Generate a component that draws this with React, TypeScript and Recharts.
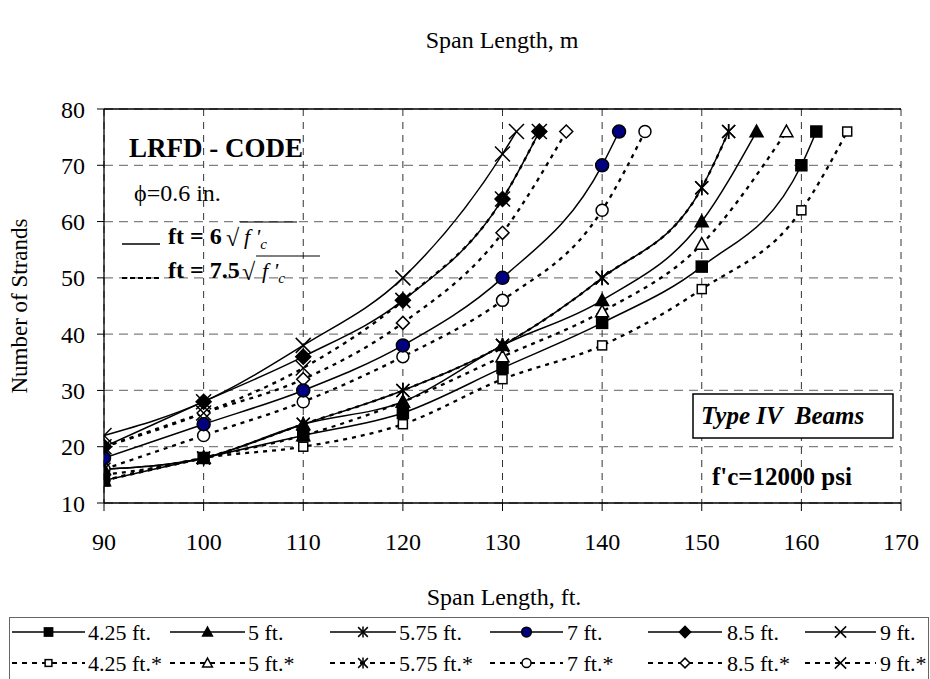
import React from "react";
import { LineChart, Line, XAxis, YAxis, CartesianGrid } from "recharts";

const SERIF = "'Liberation Serif', 'Times New Roman', serif";

const spanTicks = [90, 100, 110, 120, 130, 140, 150, 160, 170];
const spanMeters = ["27.4", "30.5", "33.5", "36.6", "39.6", "42.7", "45.7", "48.8", "51.8"];
const strandTicks = [10, 20, 30, 40, 50, 60, 70, 80];

// girder spacing 4.25 ft
const span425 = [90, 100, 110, 120, 130, 140, 150, 160, 161.5];
const strands425 = [14, 18, 22, 26, 34, 42, 52, 70, 76];
const span425s = [90, 100, 110, 120, 130, 140, 150, 160, 164.6];
const strands425s = [14, 18, 20, 24, 32, 38, 48, 62, 76];
// 5 ft
const span5 = [90, 100, 110, 120, 130, 140, 150, 155.5];
const strands5 = [16, 18, 24, 28, 38, 46, 60, 76];
const span5s = [90, 100, 110, 120, 130, 140, 150, 158.5];
const strands5s = [14, 18, 22, 28, 36, 44, 56, 76];
// 5.75 ft
const span575 = [90, 100, 110, 120, 130, 140, 150, 152.7];
const strands575 = [16, 18, 24, 30, 38, 50, 66, 76];
const span575s = [90, 100, 110, 120, 130, 140, 150, 152.7];
const strands575s = [15, 18, 24, 30, 38, 50, 66, 76];
// 7 ft
const span7 = [90, 100, 110, 120, 130, 140, 141.7];
const strands7 = [18, 24, 30, 38, 50, 70, 76];
const span7s = [90, 100, 110, 120, 130, 140, 144.3];
const strands7s = [16, 22, 28, 36, 46, 62, 76];
// 8.5 ft
const span85 = [90, 100, 110, 120, 130, 133.7];
const strands85 = [20, 28, 36, 46, 64, 76];
const span85s = [90, 100, 110, 120, 130, 136.4];
const strands85s = [20, 26, 32, 42, 58, 76];
// 9 ft
const span9 = [90, 100, 110, 120, 130, 131.4];
const strands9 = [22, 28, 38, 50, 72, 76];
const span9s = [90, 100, 110, 120, 130, 133.7];
const strands9s = [20, 26, 34, 46, 64, 76];

type Shape = "square" | "triangle" | "star" | "circle" | "diamond" | "cross";

interface Series {
    name: string;
    xs: number[];
    ys: number[];
    dashed: boolean;
    shape: Shape;
}

const SERIES: Series[] = [
    { name: "4.25 ft.", xs: span425, ys: strands425, dashed: false, shape: "square" },
    { name: "5 ft.", xs: span5, ys: strands5, dashed: false, shape: "triangle" },
    { name: "5.75 ft.", xs: span575, ys: strands575, dashed: false, shape: "star" },
    { name: "7 ft.", xs: span7, ys: strands7, dashed: false, shape: "circle" },
    { name: "8.5 ft.", xs: span85, ys: strands85, dashed: false, shape: "diamond" },
    { name: "9 ft.", xs: span9, ys: strands9, dashed: false, shape: "cross" },
    { name: "4.25 ft.*", xs: span425s, ys: strands425s, dashed: true, shape: "square" },
    { name: "5 ft.*", xs: span5s, ys: strands5s, dashed: true, shape: "triangle" },
    { name: "5.75 ft.*", xs: span575s, ys: strands575s, dashed: true, shape: "star" },
    { name: "7 ft.*", xs: span7s, ys: strands7s, dashed: true, shape: "circle" },
    { name: "8.5 ft.*", xs: span85s, ys: strands85s, dashed: true, shape: "diamond" },
    { name: "9 ft.*", xs: span9s, ys: strands9s, dashed: true, shape: "cross" },
];

function Marker({ cx, cy, shape, open, k = 1 }: { cx: number; cy: number; shape: Shape; open: boolean; k?: number }) {
    const fill = open ? "#fff" : "#000";
    const sw = 1.5;
    switch (shape) {
        case "square": {
            const h = (open ? 4.5 : 5.5) * k;
            return <rect x={cx - h} y={cy - h} width={2 * h} height={2 * h} fill={fill} stroke="#000" strokeWidth={sw} />;
        }
        case "triangle": {
            const h = 6.5 * k;
            return (
                <polygon
                    points={`${cx},${cy - h} ${cx + h},${cy + h * 0.8} ${cx - h},${cy + h * 0.8}`}
                    fill={fill}
                    stroke="#000"
                    strokeWidth={sw}
                />
            );
        }
        case "star": {
            const h = 6.5 * k;
            return (
                <g stroke="#000" strokeWidth={sw}>
                    <line x1={cx - h} y1={cy - h} x2={cx + h} y2={cy + h} />
                    <line x1={cx - h} y1={cy + h} x2={cx + h} y2={cy - h} />
                    <line x1={cx} y1={cy - h * 1.15} x2={cx} y2={cy + h * 1.15} />
                </g>
            );
        }
        case "circle":
            return (
                <circle
                    cx={cx}
                    cy={cy}
                    r={(open ? 6 : 6.5) * k}
                    fill={open ? "#fff" : "#000080"}
                    stroke="#000"
                    strokeWidth={sw}
                />
            );
        case "diamond": {
            const h = (open ? 6.5 : 7.5) * k;
            return (
                <polygon
                    points={`${cx},${cy - h} ${cx + h},${cy} ${cx},${cy + h} ${cx - h},${cy}`}
                    fill={fill}
                    stroke="#000"
                    strokeWidth={sw}
                />
            );
        }
        case "cross": {
            const h = 7.5 * k;
            return (
                <g stroke="#000" strokeWidth={sw}>
                    <line x1={cx - h} y1={cy - h} x2={cx + h} y2={cy + h} />
                    <line x1={cx - h} y1={cy + h} x2={cx + h} y2={cy - h} />
                </g>
            );
        }
    }
    return null;
}

// legend slot positions (line start, line end, label x)
const LEGEND_SLOTS = [
    { x1: 12, x2: 85, tx: 88 },
    { x1: 170, x2: 245, tx: 248 },
    { x1: 330, x2: 396, tx: 399 },
    { x1: 490, x2: 563, tx: 567 },
    { x1: 648, x2: 722, tx: 727 },
    { x1: 805, x2: 876, tx: 880 },
];

function Overlay() {
    const txt = { fontFamily: SERIF, fill: "#000" } as const;
    return (
        <svg width={930} height={679} style={{ position: "absolute", left: 0, top: 0, pointerEvents: "none" }}>
            {/* axis titles */}
            <text x={502} y={48} textAnchor="middle" fontSize={24} {...txt}>Span Length, m</text>
            <text x={504} y={605} textAnchor="middle" fontSize={24} {...txt}>Span Length, ft.</text>
            <text
                x={0}
                y={0}
                transform="translate(27,306) rotate(-90)"
                textAnchor="middle"
                fontSize={23}
                {...txt}
            >
                Number of Strands
            </text>

            {/* notes inside the plot */}
            <text x={129} y={157} fontSize={27} fontWeight="bold" {...txt}>LRFD - CODE</text>
            <text x={134} y={201} fontSize={24} {...txt}>ϕ=0.6 in.</text>

            <line x1={122} y1={244} x2={160} y2={244} stroke="#000" strokeWidth={1.5} />
            <text x={168} y={244} fontSize={24} fontWeight="bold" {...txt}>ft = 6</text>
            <text x={226} y={246} fontSize={24} {...txt}>√</text>
            <line x1={240} y1={222} x2={297} y2={222} stroke="#000" strokeWidth={1.2} />
            <text x={244} y={244} fontSize={22} fontStyle="italic" {...txt}>
                f '<tspan fontSize={15} dy={5}>c</tspan>
            </text>

            <line x1={122} y1={278} x2={160} y2={278} stroke="#000" strokeWidth={2.2} strokeDasharray="5 3" />
            <text x={168} y={278} fontSize={24} fontWeight="bold" {...txt}>ft = 7.5</text>
            <text x={242} y={280} fontSize={24} {...txt}>√</text>
            <line x1={256} y1={256} x2={320} y2={256} stroke="#000" strokeWidth={1.2} />
            <text x={262} y={278} fontSize={22} fontStyle="italic" {...txt}>
                f '<tspan fontSize={15} dy={5}>c</tspan>
            </text>

            <rect x={693} y={394} width={200} height={44} fill="#fff" stroke="#000" strokeWidth={1.5} />
            <text
                x={701}
                y={424}
                fontSize={25}
                fontWeight="bold"
                fontStyle="italic"
                style={{ whiteSpace: "pre" }}
                {...txt}
            >
                {"Type IV  Beams"}
            </text>
            <text x={712} y={485} fontSize={25} fontWeight="bold" {...txt}>f'c=12000 psi</text>

            {/* legend */}
            <rect x={9.5} y={617.5} width={919} height={70} fill="#fff" stroke="#666" strokeWidth={1} />
            {SERIES.map((s, i) => {
                const slot = LEGEND_SLOTS[i % 6];
                const y = i < 6 ? 632 : 663;
                const mx = (slot.x1 + slot.x2) / 2;
                return (
                    <g key={s.name}>
                        <line
                            x1={slot.x1}
                            y1={y}
                            x2={slot.x2}
                            y2={y}
                            stroke="#000"
                            strokeWidth={s.dashed ? 2 : 1.5}
                            strokeDasharray={s.dashed ? "5 5" : undefined}
                        />
                        <Marker cx={mx} cy={y} shape={s.shape} open={s.dashed} k={0.75} />
                        <text x={slot.tx} y={y + 8} fontSize={22} {...txt}>{s.name}</text>
                    </g>
                );
            })}
        </svg>
    );
}

export default function App() {
    const tickStyle = { fill: "#000", fontSize: 24, fontFamily: SERIF };
    // dashed curves go underneath the solid ones
    const drawOrder = [...SERIES.filter((s) => s.dashed), ...SERIES.filter((s) => !s.dashed)];

    return (
        <div
            style={{
                position: "absolute",
                left: 0,
                top: 0,
                width: 930,
                height: 679,
                background: "#fff",
                fontFamily: SERIF,
            }}
        >
            <LineChart
                width={930}
                height={679}
                margin={{ top: 79, right: 29, bottom: 146, left: 64 }}
                style={{ fontFamily: SERIF }}
            >
                <CartesianGrid
                    xAxisId="ft"
                    vertical={false}
                    stroke="#808080"
                    strokeDasharray="9 6"
                    strokeWidth={1.3}
                />
                <CartesianGrid
                    xAxisId="ft"
                    horizontal={false}
                    stroke="#333"
                    strokeDasharray="7 6"
                    strokeWidth={1}
                />
                <XAxis
                    xAxisId="ft"
                    dataKey="x"
                    type="number"
                    domain={[90, 170]}
                    ticks={spanTicks}
                    height={30}
                    tick={tickStyle}
                    tickSize={8}
                    tickMargin={22}
                    axisLine={{ stroke: "#000", strokeWidth: 1.3 }}
                    tickLine={{ stroke: "#000" }}
                    allowDataOverflow
                />
                <XAxis
                    xAxisId="m"
                    orientation="top"
                    dataKey="x"
                    type="number"
                    domain={[90, 170]}
                    ticks={spanTicks}
                    tickFormatter={(v: number) => spanMeters[spanTicks.indexOf(v)]}
                    height={30}
                    tick={tickStyle}
                    tickSize={7}
                    tickMargin={19}
                    axisLine={{ stroke: "#000", strokeWidth: 1.3 }}
                    tickLine={{ stroke: "#000" }}
                />
                <YAxis
                    type="number"
                    domain={[10, 80]}
                    ticks={strandTicks}
                    width={40}
                    tick={tickStyle}
                    tickSize={7}
                    tickMargin={12}
                    axisLine={{ stroke: "#000", strokeWidth: 1.3 }}
                    tickLine={{ stroke: "#000" }}
                />
                {drawOrder.map((s) => (
                    <Line
                        key={s.name}
                        xAxisId="ft"
                        data={s.xs.map((x, i) => ({ x, y: s.ys[i] }))}
                        dataKey="y"
                        name={s.name}
                        type="monotone"
                        stroke="#000"
                        strokeWidth={s.dashed ? 2.3 : 1.5}
                        strokeDasharray={s.dashed ? "4 5" : undefined}
                        isAnimationActive={false}
                        dot={(p: any) => (
                            <Marker key={`${s.name}-${p.index}`} cx={p.cx} cy={p.cy} shape={s.shape} open={s.dashed} />
                        )}
                        activeDot={false}
                    />
                ))}
            </LineChart>
            <Overlay />
        </div>
    );
}
